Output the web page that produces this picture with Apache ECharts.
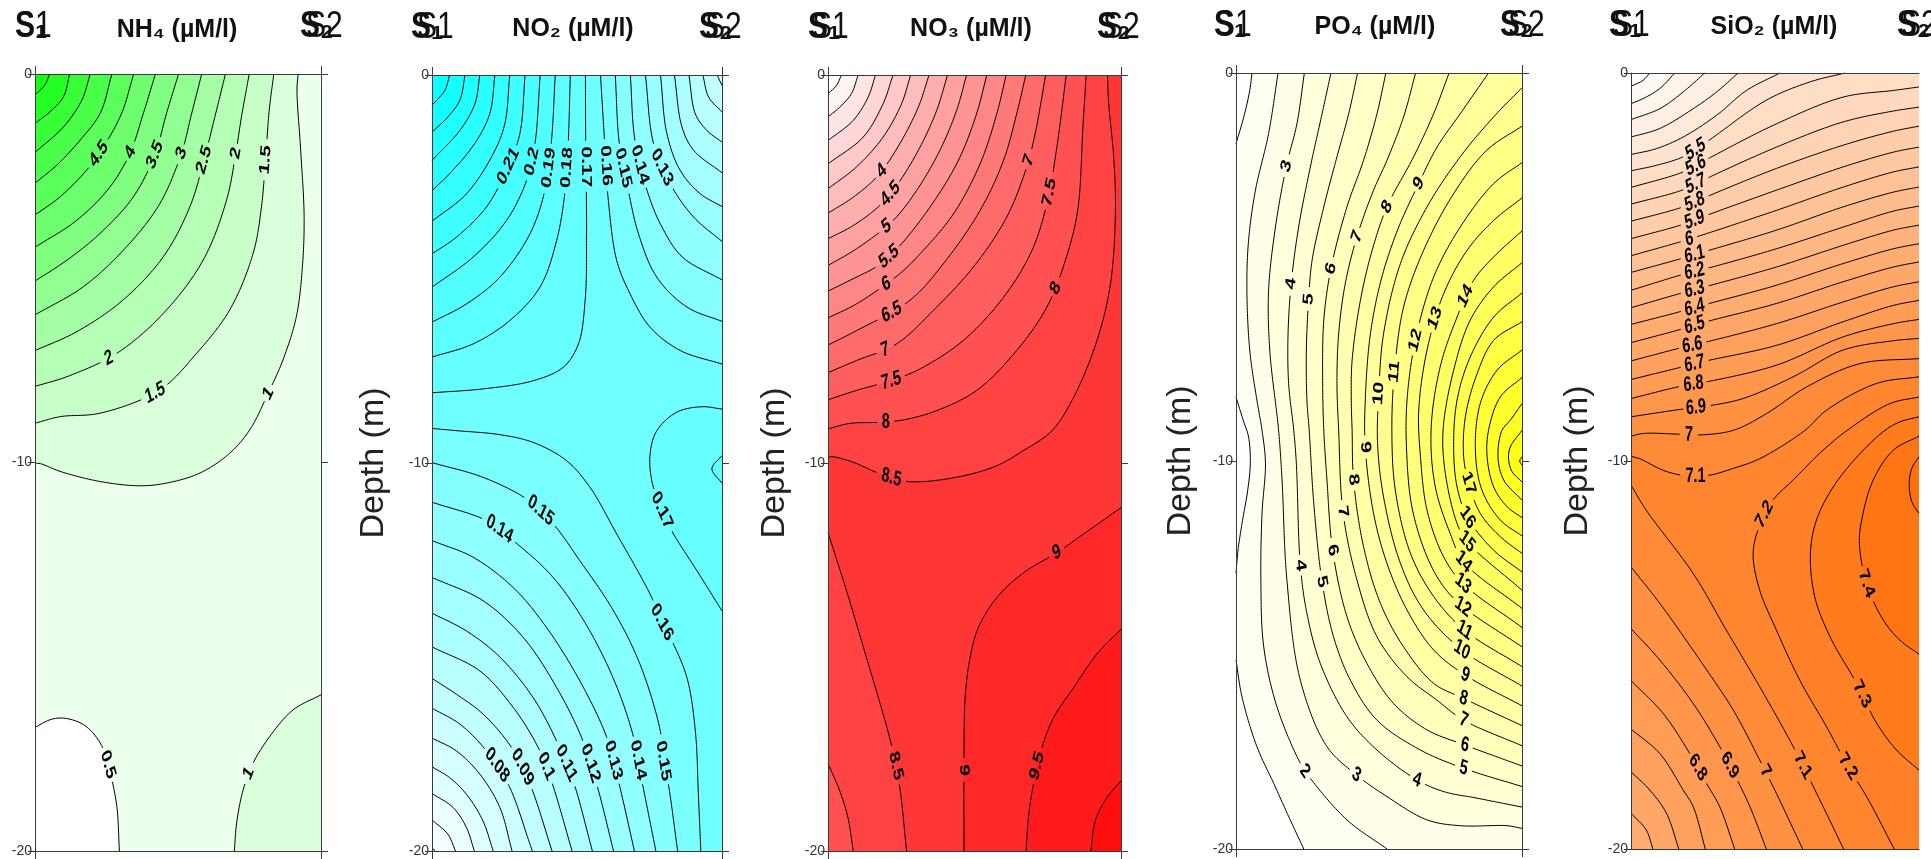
<!DOCTYPE html>
<html><head><meta charset="utf-8">
<style>html,body{margin:0;padding:0;background:#fff}#c{width:1931px;height:859px}</style>
<script src="https://cdn.jsdelivr.net/npm/echarts@6/dist/echarts.min.js"></script>
</head><body><div id="c"></div>
<script>
// x = position between stations S1 and S2 in %, depth in metres below surface.
const panelTitles = ['NH₄ (µM/l)','NO₂ (µM/l)','NO₃ (µM/l)','PO₄ (µM/l)','SiO₂ (µM/l)'];
const depthName = 'Depth (m)';

const nh4Levels = [0.5,1,1.5,2,2.5,3,3.5,4,4.5,5,5.5,6,6.5];
const nh4Contours = [
{v:0.5,c:[[[0,16.82],[5.3,16.62],[10,16.58],[17,16.75],[22.8,17.22],[26.3,18],[28.6,18.85],[29.5,20]]],k:[[[100,20],[100,0],[0,0]]]},
{v:1,c:[[[92,0],[91.6,.41],[92.9,1.96],[94.1,3.67],[93.5,4.96],[91.4,6.24],[86.7,7.36],[81.5,8.22],[75.1,9.16],[68.1,9.76],[57.7,10.27],[46,10.53],[36.7,10.6],[22.8,10.49],[8.8,10.23],[1.9,10.03],[0,10.02]]],k:[[[0,0]]]},
{v:1,c:[[[100,15.98],[90.2,16.37],[82.1,17.05],[76.3,17.73],[72.8,18.42],[70.5,19.28],[69.7,20]]],k:[[[100,20]]]},
{v:1.5,c:[[[83.5,0],[81.9,.93],[80.6,2.21],[79.2,3.41],[76.3,4.61],[68.1,6.07],[56.5,7.19],[43.7,8.13],[22.8,8.73],[8.8,8.82],[0,8.99]]],k:[[[0,0]]]},
{v:2,c:[[[74.9,0],[72.2,1.1],[70.2,2.04],[67,3.24],[58.8,4.79],[44.9,6.16],[28.6,7.19],[11.2,7.79],[0,8.04]]],k:[[[0,0]]]},
{v:2.5,c:[[[66.6,0],[62.9,1.1],[59.1,2.21],[54.2,3.41],[44.9,4.7],[30.9,5.81],[14.7,6.63],[0,7.12]]],k:[[[0,0]]]},
{v:3,c:[[[58.3,0],[54.8,1.01],[51.2,2.04],[43.7,3.33],[32.1,4.44],[17,5.47],[0,6.2]]],k:[[[0,0]]]},
{v:3.5,c:[[[50.2,0],[46,1.01],[41.9,2.08],[34.4,3.16],[22.8,4.1],[11.2,4.79],[0,5.33]]],k:[[[0,0]]]},
{v:4,c:[[[42.1,0],[37.9,1.01],[33.3,2.02],[26.3,2.9],[14.7,3.76],[0,4.46]]],k:[[[0,0]]]},
{v:4.5,c:[[[34.5,0],[30.3,1.01],[24,1.87],[18.1,2.47],[8.8,3.16],[0,3.63]]],k:[[[0,0]]]},
{v:5,c:[[[26.9,0],[22.8,1.01],[15.8,1.7],[7.7,2.34],[0,2.81]]],k:[[[0,0]]]},
{v:5.5,c:[[[19.3,0],[16.4,.67],[10,1.36],[0,2.02]]],k:[[[0,0]]]},
{v:6,c:[[[12.1,0],[10,.58],[5.3,.97],[0,1.27]]],k:[[[0,0]]]},
{v:6.5,c:[[[5.1,0],[3.5,.28],[0,.54]]],k:[[[0,0]]]}
];
const nh4Labels = [[23.4,2.08,'4.5'],[33.3,2.02,'4'],[42,2.08,'3.5'],[51.3,2.04,'3'],[60,2.21,'2.5'],[70.5,2.04,'2'],[80.6,2.21,'1.5'],[26.3,7.36,'2'],[42.6,8.26,'1.5'],[81.5,8.26,'1'],[25.3,17.78,'0.5'],[75.1,18.04,'1']];

const no2Levels = [0.03,0.04,0.05,0.06,0.07,0.08,0.09,0.1,0.11,0.12,0.13,0.14,0.15,0.16,0.17,0.18,0.19,0.2,0.21,0.22,0.23,0.24,0.25,0.26];
const cornersLow = [[0,0],[100,0],[100,20]];
const cornersBoth = [[[100,20]],[[0,0]]];
const no2Contours = [
{v:0.03,c:[[[1.2,20],[0,19.92]]],k:[cornersLow]},
{v:0.04,c:[[[8.1,20],[5.5,19.57],[0,19.2]]],k:[cornersLow]},
{v:0.05,c:[[[14.6,20],[11.9,19.4],[7.3,18.88],[0,18.52]]],k:[cornersLow]},
{v:0.06,c:[[[21.1,20],[17.6,19.23],[11.9,18.54],[6.1,18.11],[0,17.83]]],k:[cornersLow]},
{v:0.07,c:[[[27.6,20],[23.4,18.88],[16.5,18.02],[8.4,17.42],[0,17.09]]],k:[cornersLow]},
{v:0.08,c:[[[98.3,0],[100,.27]],[[34.6,20],[26.3,18.28],[18.8,17.42],[9.6,16.73],[0,16.32]]],k:cornersBoth},
{v:0.09,c:[[[93.4,0],[95.4,.57],[100,.95]],[[41.4,20],[33.8,18.28],[27.4,17.33],[17.6,16.47],[8.4,15.96],[0,15.55]]],k:cornersBoth},
{v:0.1,c:[[[88.6,0],[90.8,1],[94.8,1.43],[100,1.73]],[[48.3,20],[41.2,18.2],[36.6,17.33],[28,16.3],[16.5,15.36],[0,14.74]]],k:cornersBoth},
{v:0.11,c:[[[83.6,0],[86.2,1.34],[90.2,1.94],[100,2.52]],[[55.3,20],[48.7,18.2],[43,17.17],[34.9,16.05],[23.4,15],[11.9,14.33],[0,13.87]]],k:cornersBoth},
{v:0.12,c:[[[78.8,0],[81,1.51],[85.6,2.46],[92.5,3.06],[100,3.39]],[[62.6,20],[56.8,18.28],[51.6,17.08],[43,15.79],[31.5,14.5],[17.6,13.55],[0,12.95]]],k:cornersBoth},
{v:0.13,c:[[[73.6,0],[76.4,1.77],[82.1,2.8],[90.2,3.66],[100,4.29]],[[69.8,20],[64.3,18.2],[60.3,17.08],[51.6,15.7],[39.5,14.24],[28,13.21],[14.2,12.43],[0,12]]],k:cornersBoth},
{v:0.14,c:[[[68.4,0],[70,1.69],[74.7,3.1],[79.3,3.92],[86.3,4.69],[100,5.28]],[[77.2,20],[72.6,18.28],[68.9,16.9],[61.4,15.36],[51,13.9],[40.7,12.86],[28,12],[18.9,11.49],[0,11.01]]],k:cornersBoth},
{v:0.15,c:[[[63.2,0],[64.6,1.77],[67.7,2.98],[71.2,4.09],[77.5,5.21],[87.9,5.98],[100,6.35]],[[84.7,20],[81.5,18.28],[79.8,17.68],[78.7,16.9],[71.8,15.2],[62.6,13.81],[51,12.52],[41.8,11.57],[32.6,10.93],[17.6,10.37],[0,9.99]]],k:cornersBoth},
{v:0.16,c:[[[58.1,0],[59.7,1.94],[60.8,3.23],[63.7,4.78],[68.3,5.64],[75.2,6.5],[85.6,7.1],[100,7.45]],[[92.7,20],[91.9,18.63],[90.8,16.9],[87.9,15.53],[82.7,14.58],[79.3,14.11],[75.2,13.38],[63.7,11.83],[54.5,10.63],[46.4,9.94],[34.9,9.47],[23.4,9.27],[9,9.17],[0,9.11]]],k:cornersBoth},
{v:0.17,c:[[[52.9,0],[53,1.69],[53.3,4.09],[52.8,5.81],[50.5,6.93],[45.3,7.53],[34.9,7.88],[17.6,8.09],[0,8.19]]],k:[[[0,0]]]},
{v:0.17,c:[[[100,13.81],[91.3,12.77],[83.3,11.83],[79.3,11.23],[75.8,10.46],[75.2,9.77],[77.5,9.17],[84.4,8.69],[93.1,8.55],[100,8.61]]],k:[[]]},
{v:0.18,c:[[[47.7,0],[47,1.69],[45.9,2.98],[43,4.26],[37.2,5.47],[26.8,6.33],[14.2,6.93],[0,7.27]]],k:[[[0,0]]]},
{v:0.18,c:[[[100,9.81],[96.5,10.15],[100,10.52]]],k:[[]]},
{v:0.19,c:[[[42.5,0],[41.2,1.69],[38.9,2.98],[33.8,4.09],[23.4,5.21],[11.9,5.9],[0,6.37]]],k:[[[0,0]]]},
{v:0.2,c:[[[37.3,0],[35.5,1.77],[32.6,2.72],[25.7,3.75],[14.2,4.69],[0,5.47]]],k:[[[0,0]]]},
{v:0.21,c:[[[32.1,0],[30.3,1.51],[26.3,2.35],[18.8,3.4],[8.4,4.18],[0,4.61]]],k:[[[0,0]]]},
{v:0.22,c:[[[26.8,0],[25.1,1.26],[21.1,2.03],[11.9,3.06],[0,3.77]]],k:[[[0,0]]]},
{v:0.23,c:[[[21.7,0],[19.9,1],[14.7,1.77],[6.1,2.54],[0,2.98]]],k:[[[0,0]]]},
{v:0.24,c:[[[16.5,0],[14.8,.74],[9.6,1.43],[0,2.2]]],k:[[[0,0]]]},
{v:0.25,c:[[[11.4,0],[9.6,.65],[5.5,1.08],[0,1.47]]],k:[[[0,0]]]},
{v:0.26,c:[[[6.1,0],[4.4,.4],[0,.78]]],k:[[[0,0]]]}
];
const no2Labels = [[26.3,2.35,'0.21'],[33.8,2.24,'0.2'],[39.5,2.37,'0.19'],[46.4,2.37,'0.18'],[53,2.37,'0.17'],[59.3,2.37,'0.16'],[65.8,2.37,'0.15'],[72.9,2.3,'0.14'],[79.8,2.33,'0.13'],[37.2,11.27,'0.15'],[22.8,11.79,'0.14'],[79.3,11.23,'0.17'],[79.3,14.11,'0.16'],[22.2,17.81,'0.08'],[30.5,17.85,'0.09'],[38.9,17.85,'0.1'],[45.9,17.72,'0.11'],[53.9,17.77,'0.12'],[62,17.68,'0.13'],[70.6,17.68,'0.14'],[79.8,17.68,'0.15']];

const no3Levels = [1.5,2,2.5,3,3.5,4,4.5,5,5.5,6,6.5,7,7.5,8,8.5,9,9.5,10];
const cornersTL = [[0,20],[100,20],[100,0]];
const no3Contours = [
{v:1.5,c:[[[4.6,0],[2.9,.27],[0,.48]]],k:[cornersTL]},
{v:2,c:[[[10.3,0],[8,.48],[4,.83],[0,1.08]]],k:[cornersTL]},
{v:2.5,c:[[[16.2,0],[13.7,.57],[8.6,1.17],[0,1.69]]],k:[cornersTL]},
{v:3,c:[[[22.2,0],[18.8,.74],[12,1.6],[0,2.29]]],k:[cornersTL]},
{v:3.5,c:[[[28.2,0],[25.1,.74],[18.8,1.6],[9.7,2.37],[0,2.93]]],k:[cornersTL]},
{v:4,c:[[[34.5,0],[30.8,.83],[24.5,1.77],[17.1,2.59],[8.6,3.15],[0,3.56]]],k:[cornersTL]},
{v:4.5,c:[[[40.8,0],[37.1,.91],[31.4,1.86],[23.9,2.8],[17.7,3.36],[8.6,3.88],[0,4.22]]],k:[cornersTL]},
{v:5,c:[[[47.3,0],[43.9,.91],[38.2,1.94],[30.2,2.98],[22.2,3.75],[9.7,4.48],[0,4.91]]],k:[cornersTL]},
{v:5.5,c:[[[54.2,0],[50.7,1],[45,2.12],[37.1,3.15],[25.1,4.35],[17.1,4.91],[8.6,5.25],[0,5.57]]],k:[cornersTL]},
{v:6,c:[[[60.8,0],[57.6,1],[51.9,2.29],[42.8,3.58],[31.4,4.61],[24.5,5.12],[9.7,5.9],[0,6.26]]],k:[cornersTL]},
{v:6.5,c:[[[67.5,0],[64.4,1],[59.9,2.2],[51.9,3.49],[39.3,4.87],[27.9,5.81],[9.7,6.59],[0,6.96]]],k:[cornersTL]},
{v:7,c:[[[74.3,0],[70.7,1.51],[67.8,2.37],[61,3.66],[49.6,4.95],[35.9,6.07],[23.4,6.93],[9.7,7.36],[0,7.67]]],k:[cornersTL]},
{v:7.5,c:[[[81.3,0],[78.1,1.86],[74.7,3.32],[69.6,4.52],[59.9,5.73],[46.2,6.84],[32.5,7.53],[23.4,7.83],[9.7,8.13],[0,8.37]]],k:[cornersTL]},
{v:8,c:[[[88.1,0],[87,1.34],[85.2,3.49],[81,4.78],[74.7,5.98],[64.4,7.1],[50.7,8.13],[37.1,8.65],[25.7,8.89],[17.7,8.95],[7.4,8.98],[0,9.12]],[[0,17.75],[4,18.45],[6.8,19.14],[8.6,20]]],k:[[],[[100,20],[100,0]]]},
{v:8.5,c:[[[95.4,0],[95.8,.74],[97.5,2.12],[98.1,3.49],[96.4,5.38],[91.8,6.84],[83.8,8.31],[76.4,9.17],[66.7,9.68],[57.6,10.07],[46.2,10.33],[32.5,10.48],[25.7,10.46],[16.5,10.24],[8.6,9.98],[1.7,9.84],[0,9.85]],[[0,11.79],[6.3,13.29],[13.1,15.01],[18.8,16.47],[21.7,17.29],[24.5,18.37],[26.8,20]]],k:[[],[[100,20],[100,0]]]},
{v:9,c:[[[100,11.15],[87.2,11.83],[78.1,12.31],[66.7,12.83],[57.6,13.47],[51.3,14.24],[48.5,15.01],[46.8,16.05],[46.4,17.77],[46.4,20]]],k:[[[100,20]]]},
{v:9.5,c:[[[100,14.28],[91.8,14.92],[83.8,15.79],[77,16.56],[73,17.34],[70.1,18.28],[68.4,19.14],[67.6,20]]],k:[[[100,20]]]},
{v:10,c:[[[100,18.19],[95.2,18.62],[91.2,19.22],[89.7,20]]],k:[[[100,20]]]}
];
const no3Labels = [[19.2,2.49,'4'],[21.7,3.06,'4.5'],[20,3.92,'5'],[20.8,4.65,'5.5'],[20,5.45,'6'],[21.7,6.17,'6.5'],[20,7.09,'7'],[22,7.92,'7.5'],[20,8.93,'8'],[68.4,2.2,'7'],[75.3,3.06,'7.5'],[79,5.51,'8'],[22.2,10.37,'8.5'],[78.1,12.26,'9'],[23.4,17.8,'8.5'],[46.4,17.95,'9',-90],[71.8,17.8,'9.5']];

const po4Levels = [1,2,3,4,5,6,7,8,9,10,11,12,13,14,15,16,17,18,19,20,21,22];
const po4Contours = [
{v:1,c:[[[5.6,0],[4.8,.45],[2.7,1.14],[0,1.82]],[[0,8.35],[2.7,8.99],[4.4,9.38],[5,10.06],[4.1,10.75],[2.1,11.61],[.7,12.3],[0,12.89]],[[0,15.13],[2.1,16.08],[7.3,17.36],[13.2,18.31],[17.9,19.08],[23.7,20]]],k:[[],[],[[100,20],[100,0]]]},
{v:2,c:[[[14.7,0],[11.4,1.56],[6.8,3.02],[4.4,4.31],[3.8,5.51],[4.8,7.14],[7.3,8.43],[9.1,9.21],[10.3,10.06],[9.1,11.35],[8.7,13.07],[9.7,14.79],[14.3,16.33],[22.5,17.79],[26,18.18],[38.8,19.25],[52.8,20]]],k:[[[100,20],[100,0]]]},
{v:3,c:[[[23.9,0],[21.3,1.31],[17.6,2.4],[13.8,3.97],[11.4,5.6],[11.8,7.14],[14.9,9.21],[16.1,10.49],[17.8,13.07],[22.5,15.65],[31.8,17.36],[42.1,18.09],[52.8,18.65],[66.8,19.25],[78.4,19.4],[94.8,19.4],[100,19.47]]],k:[[[100,0]]]},
{v:4,c:[[[33.2,0],[30.1,1.05],[26,2.42],[21.9,3.97],[19.3,5.43],[18.2,6.72],[18.4,8],[20.2,9.21],[21.1,10.06],[22.5,12.69],[24.8,13.93],[29.5,15.22],[38.8,16.59],[49.3,17.45],[63.3,18.22],[72.6,18.52],[84.3,18.69],[100,18.92]]],k:[[[100,0]]]},
{v:5,c:[[[42.5,0],[39.4,1.05],[35.3,2.16],[30.7,3.45],[26.6,4.83],[25.4,5.83],[24.6,7.14],[24.8,8.43],[25.6,9.21],[27.2,11.1],[30.1,13.11],[34.1,14.53],[40,15.65],[49.3,16.68],[64.5,17.45],[79.6,17.92],[100,18.39]]],k:[[[100,0]]]},
{v:6,c:[[[52.4,0],[49.3,1.05],[44.6,2.25],[38.8,3.45],[33.2,5.04],[30.7,6.37],[30.3,8],[30.7,9.21],[31.8,10.49],[33.8,12.3],[38.8,14.01],[45.8,15.22],[55.1,16.25],[66.8,16.93],[80,17.32],[100,17.86]]],k:[[[100,0]]]},
{v:7,c:[[[62.8,0],[58.6,1.13],[52.8,2.25],[48.1,3.02],[42.3,4.22],[38.2,5.43],[35.9,6.72],[35.3,8],[35.9,9.21],[37.4,11.31],[42.3,13.07],[49.3,14.53],[59.8,15.56],[70.2,16.16],[79.6,16.68],[100,17.34]]],k:[[[100,0]]]},
{v:8,c:[[[74.5,0],[69.1,1.05],[62.1,2.16],[52.8,3.45],[47.6,4.57],[43.5,5.86],[40.6,7.4],[40.3,8.43],[40.6,9.21],[41.1,10.48],[44.6,12.21],[50.5,13.67],[58.6,14.79],[69.1,15.73],[79.6,16.12],[100,16.82]]],k:[[[100,0]]]},
{v:9,c:[[[88.3,0],[78.4,1.05],[70.3,1.91],[63.9,2.85],[56.9,3.97],[51,5.26],[47,6.72],[45.2,8.43],[45.2,9.65],[48.1,11.35],[52.8,12.64],[59.8,13.84],[69.1,14.87],[80.2,15.52],[100,16.31]]],k:[[[100,0]]]},
{v:10,c:[[[100,.38],[90.1,1.13],[78.4,2.16],[66.8,3.45],[57.5,4.91],[51.6,6.72],[49.9,8.26],[49.5,9.55],[51.6,10.93],[57.5,12.64],[65.6,13.84],[79,14.87],[100,15.8]]],k:[[]]},
{v:11,c:[[[100,1.37],[87.7,1.99],[76.1,3.11],[65.6,4.57],[58.6,6.03],[55.4,7.7],[54.5,9.21],[55.7,10.75],[61,12.38],[69.1,13.49],[79.9,14.36],[100,15.3]]],k:[[]]},
{v:12,c:[[[100,2.31],[90.1,2.85],[78.4,3.97],[69.1,5.26],[62.7,6.89],[59.8,8.43],[59.6,9.64],[61.5,11.18],[66.8,12.47],[72.6,13.24],[79.4,13.76],[100,14.79]]],k:[[]]},
{v:13,c:[[[100,3.22],[90.1,3.8],[80.8,4.57],[72.6,5.69],[66.8,7.14],[63.9,8.69],[64.5,9.89],[66.8,11.27],[72.6,12.47],[79.4,13.16],[100,14.29]]],k:[[]]},
{v:14,c:[[[100,4.07],[90.1,4.74],[83.1,5.34],[77.3,6.29],[71.4,7.57],[68.2,9.21],[69.7,10.67],[74.9,11.87],[79.6,12.6],[100,13.8]]],k:[[]]},
{v:15,c:[[[100,4.89],[90.1,5.51],[81.9,6.37],[76.1,7.66],[72.4,9.21],[73.2,10.32],[77.3,11.61],[80.8,12.08],[100,13.33]]],k:[[]]},
{v:16,c:[[[100,5.67],[90.1,6.29],[81.9,7.32],[77.3,8.43],[76.1,9.64],[77.3,10.67],[81,11.46],[90.1,12.3],[100,12.86]]],k:[[]]},
{v:17,c:[[[100,6.41],[90.1,6.89],[84.3,7.75],[80.2,8.86],[79.6,9.89],[81.4,10.58],[85.4,11.35],[92.4,11.95],[100,12.38]]],k:[[]]},
{v:18,c:[[[100,7.14],[91.3,7.66],[85.4,8.52],[83.7,9.72],[86,10.75],[92.4,11.52],[100,11.93]]],k:[[]]},
{v:19,c:[[[100,7.85],[92.4,8.35],[88.3,9.21],[87.8,9.89],[90.1,10.67],[94.8,11.18],[100,11.46]]],k:[[]]},
{v:20,c:[[[100,8.52],[95.9,8.95],[93,9.21],[91.6,9.89],[93.6,10.49],[100,11.01]]],k:[[]]},
{v:21,c:[[[100,9.21],[95.9,9.64],[95.3,9.94],[96.5,10.27],[100,10.54]]],k:[[]]},
{v:22,c:[[[100,9.89],[99.2,10],[100,10.11]]],k:[[]]}
];
const po4Labels = [[17.6,2.4,'3'],[63.9,2.85,'9'],[52.8,3.45,'8'],[42.3,4.22,'7'],[33.2,5.04,'6'],[19.3,5.43,'4'],[25.4,5.83,'5'],[80.8,5.73,'14'],[70.6,6.33,'13'],[62.7,6.89,'12'],[55.5,7.7,'11'],[49.9,8.26,'10'],[45.2,9.65,'9'],[41.1,10.48,'8'],[37.4,11.31,'7'],[33.8,12.3,'6'],[22.7,12.69,'4'],[30.1,13.11,'5'],[81.4,10.58,'17'],[81,11.46,'16'],[80.8,12.08,'15'],[79.6,12.6,'14'],[79.4,13.16,'13'],[79.4,13.76,'12'],[80,14.36,'11'],[79,14.87,'10'],[80.2,15.52,'9'],[79.6,16.12,'8'],[79.6,16.68,'7'],[80,17.32,'6'],[79.6,17.92,'5'],[24.2,18.01,'2'],[42.1,18.09,'3'],[63.5,18.22,'4']];

const sio2Levels = [5,5.1,5.2,5.3,5.4,5.5,5.6,5.7,5.8,5.9,6,6.1,6.2,6.3,6.4,6.5,6.6,6.7,6.8,6.9,7,7.1,7.2,7.3,7.4,7.5];
const cornersBelow = [[100,20],[0,20]];
const cornersRing = [[[100,20]],[]];
const sio2Contours = [
{v:5,c:[[[6.5,0],[4.2,.19],[0,.34]]],k:[cornersTL]},
{v:5.1,c:[[[15.2,0],[10,.4],[4.2,.66],[0,.79]]],k:[cornersTL]},
{v:5.2,c:[[[25.6,0],[18.1,.49],[10,.92],[0,1.2]]],k:[cornersTL]},
{v:5.3,c:[[[37.2,0],[29.7,.49],[21.6,.92],[10,1.43],[0,1.65]]],k:[cornersTL]},
{v:5.4,c:[[[51.7,0],[40.1,.45],[29.7,1.09],[18.1,1.65],[8.8,1.95],[0,2.1]]],k:[cornersTL]},
{v:5.5,c:[[[74.3,0],[62.1,.23],[47,.7],[26.2,1.78],[18.1,2.16],[8.8,2.38],[0,2.52]]],k:[cornersTL]},
{v:5.6,c:[[[0,2.95],[18.1,2.55],[26.2,2.23],[50.5,1.31],[73.7,.62],[91.1,.45],[100,.36]]],k:[cornersBelow]},
{v:5.7,c:[[[0,3.38],[18.1,3.01],[26.2,2.72],[50.5,1.91],[73.7,1.26],[91.1,.98],[100,.88]]],k:[cornersBelow]},
{v:5.8,c:[[[0,3.82],[18.1,3.45],[26.2,3.19],[50.5,2.46],[73.7,1.86],[91.1,1.5],[100,1.37]]],k:[cornersBelow]},
{v:5.9,c:[[[0,4.27],[18.1,3.9],[26.2,3.67],[50.5,3.02],[73.7,2.42],[91.1,2.04],[100,1.91]]],k:[cornersBelow]},
{v:6,c:[[[0,4.71],[18.1,4.33],[26.2,4.14],[50.5,3.54],[73.7,2.94],[91.1,2.55],[100,2.42]]],k:[cornersBelow]},
{v:6.1,c:[[[0,5.14],[18.1,4.77],[26.2,4.59],[50.5,4.05],[73.7,3.45],[91.1,3.07],[100,2.94]]],k:[cornersBelow]},
{v:6.2,c:[[[0,5.6],[18.1,5.19],[26.2,5.04],[50.5,4.53],[73.7,3.97],[91.1,3.56],[100,3.43]]],k:[cornersBelow]},
{v:6.3,c:[[[0,6.05],[18.1,5.66],[26.2,5.5],[50.5,5],[73.7,4.44],[91.1,4.05],[100,3.92]]],k:[cornersBelow]},
{v:6.4,c:[[[0,6.48],[18.1,6.13],[26.2,5.96],[50.5,5.47],[73.7,4.91],[91.1,4.53],[100,4.4]]],k:[cornersBelow]},
{v:6.5,c:[[[0,6.95],[18.1,6.59],[26.2,6.41],[50.5,5.94],[73.7,5.38],[91.1,5],[100,4.87]],[[7.6,20],[5.3,19.51],[0,19.08]]],k:cornersRing},
{v:6.6,c:[[[0,7.42],[17.5,7.08],[26.2,6.93],[50.5,6.46],[73.7,5.9],[91.1,5.51],[100,5.38]],[[16.6,20],[12.3,19.08],[6.5,18.48],[0,18.01]]],k:cornersRing},
{v:6.7,c:[[[0,7.9],[18.1,7.57],[26.2,7.42],[50.5,7.02],[73.7,6.41],[91.1,5.99],[100,5.86]],[[25.8,20],[21.6,18.91],[18.1,18.48],[10,17.54],[0,16.91]]],k:cornersRing},
{v:6.8,c:[[[0,8.39],[17.5,8.07],[26.2,7.96],[50.5,7.53],[73.7,6.8],[91.1,6.46],[100,6.35]],[[36,20],[30.8,18.91],[26.2,18.31],[20.4,17.54],[11.1,16.5],[0,15.66]]],k:cornersRing},
{v:6.9,c:[[[0,8.86],[18.1,8.66],[26.8,8.58],[38.9,8.39],[56.3,7.83],[73.7,7.14],[91.1,6.9],[100,6.84]],[[47,20],[41.3,18.91],[36.6,18.18],[30.8,17.36],[21.6,16.25],[10,15.13],[0,14.32]]],k:cornersRing},
{v:7,c:[[[0,9.36],[4.2,9.29],[16.9,9.31],[23.3,9.33],[35.5,9.21],[47,8.78],[61,8.09],[79.5,7.49],[100,7.36]],[[59.6,20],[50.5,18.57],[44.7,17.71],[35.5,16.42],[23.9,15.13],[10,13.67],[0,12.73]]],k:cornersRing},
{v:7.1,c:[[[0,9.88],[3,9.94],[11.2,10.24],[18.1,10.37],[26.8,10.37],[35.5,10.19],[44.7,9.94],[60.4,9.21],[67.9,8.69],[85.3,8],[100,7.83]],[[73.8,20],[65.6,18.74],[56.3,17.36],[44.7,15.82],[33.1,14.36],[21.6,12.9],[5.3,11.27],[0,10.62]]],k:cornersRing},
{v:7.2,c:[[[100,8.35],[89.9,8.52],[76,9.16],[66.7,9.72],[56.3,10.49],[49.4,11],[44.7,11.65],[42.4,12.38],[44.7,13.33],[50.5,14.36],[58.6,15.65],[67.9,16.85],[75.4,17.88],[81.8,18.65],[91.4,20]]],k:[[[100,20]]]},
{v:7.3,c:[[[100,8.86],[93.4,8.99],[88.2,9.21],[79.5,9.81],[70.2,10.67],[64.4,11.52],[62.3,12.38],[63.8,13.5],[69.1,14.53],[78.3,15.73],[85.3,16.76],[92.2,17.45],[100,17.97]]],k:[[]]},
{v:7.4,c:[[[100,9.36],[91.1,9.72],[84.1,10.49],[80.1,11.52],[79.3,12.13],[81.8,13.16],[87.6,14.1],[93.4,14.62],[100,14.98]]],k:[[]]},
{v:7.5,c:[[[100,9.89],[97.5,10.19],[96.6,10.58],[97.5,11.05],[100,11.35]]],k:[[]]}
];
const sio2Labels = [[22.1,1.92,'5.5'],[22.1,2.38,'5.6'],[22.1,2.85,'5.7'],[22.1,3.31,'5.8'],[22.1,3.75,'5.9'],[20.4,4.27,'6'],[22.1,4.7,'6.1'],[22.1,5.13,'6.2'],[22.1,5.58,'6.3'],[22.1,6.03,'6.4'],[22.1,6.5,'6.5'],[21.6,7,'6.6'],[22.1,7.49,'6.7'],[21.8,8.05,'6.8'],[22.1,8.62,'6.9'],[20.2,9.33,'7'],[22.1,10.39,'7.1'],[47,11.39,'7.2'],[81.8,13.16,'7.4'],[80.6,16.03,'7.3'],[75.4,17.88,'7.2'],[59.8,17.84,'7.1'],[47.6,17.97,'7'],[34.3,17.84,'6.9'],[23.3,17.92,'6.8']];

const rampColours = [[0,255,0],[0,255,255],[255,0,0],[255,255,0],[255,106,0]];
const levelSets = [nh4Levels,no2Levels,no3Levels,po4Levels,sio2Levels];
const contourSets = [nh4Contours,no2Contours,no3Contours,po4Contours,sio2Contours];
const labelSets = [nh4Labels,no2Labels,no3Labels,po4Labels,sio2Labels];

// layout
const frames = [[35,321,74,851],[432,722,75,851],[828,1121,75,851],[1236,1522,73,849],[1631,1919,73,849]];
const titleX = [172,568,966,1370,1769];
const titleTop = [13,12,12,10,10];
const s1X = [[15,15],[411,417],[808,812],[1214,1215],[1609,1613]];
const s2X = [[300,306],[699,705],[1097,1103],[1500,1508],[1897,1901]];
const depthX = [0,374,775,1181,1578];
const STRETCH = 1.45, FONT = 14.5;

function smooth(pts){
  const n = pts.length, out = [];
  if(n<3) return pts.slice();
  const get = i => {
    if(i<0) return [2*pts[0][0]-pts[1][0],2*pts[0][1]-pts[1][1]];
    if(i>=n) return [2*pts[n-1][0]-pts[n-2][0],2*pts[n-1][1]-pts[n-2][1]];
    return pts[i];
  };
  const td = (a,b)=>Math.max(1e-3,Math.sqrt(Math.hypot(a[0]-b[0],a[1]-b[1])));
  const L=(a,b,t0,t1,t)=>{const u=(t-t0)/(t1-t0);return [a[0]+(b[0]-a[0])*u,a[1]+(b[1]-a[1])*u];};
  for(let i=0;i<n-1;i++){
    const p0=get(i-1),p1=get(i),p2=get(i+1),p3=get(i+2);
    const t0=0,t1=t0+td(p0,p1),t2=t1+td(p1,p2),t3=t2+td(p2,p3);
    const steps=Math.max(4,Math.round(Math.hypot(p1[0]-p2[0],p1[1]-p2[1])/3));
    for(let s=0;s<steps;s++){
      const t=t1+(t2-t1)*s/steps;
      const a1=L(p0,p1,t0,t1,t),a2=L(p1,p2,t1,t2,t),a3=L(p2,p3,t2,t3,t);
      const b1=L(a1,a2,t0,t2,t),b2=L(a2,a3,t1,t3,t);
      out.push(L(b1,b2,t1,t2,t));
    }
  }
  out.push(pts[n-1]);
  return out;
}
const toPx = (api,p)=>api.coord([p[0],-p[1]]);
function textWidth(s){let w=0;for(const ch of s) w+=ch==='.'?.278:.556;return w*FONT;}

const placed = {};
function placeLabels(p,api){
  if(placed[p]) return placed[p];
  const res = labelSets[p].map(l=>{
    const v=parseFloat(l[2]), tgt=toPx(api,l);
    let best=null,bd=1e12;
    contourSets[p].filter(c=>c.v===v).forEach(c=>c.c.forEach(cv=>{
      const d=smooth(cv.map(q=>toPx(api,q)));
      d.forEach((q,i)=>{const e=Math.hypot(q[0]-tgt[0],q[1]-tgt[1]);if(e<bd){bd=e;best={d,i};}});
    }));
    const a=best.d[Math.max(0,best.i-3)],b=best.d[Math.min(best.d.length-1,best.i+3)],pt=best.d[best.i];
    let tx=b[0]-a[0],ty=(b[1]-a[1])/STRETCH;
    if(tx<0){tx=-tx;ty=-ty;}
    let th=Math.atan2(-ty,tx);
    if(l[3]!==undefined) th=l[3]*Math.PI/180;
    return {v,text:l[2],x:pt[0],y:pt[1],th,hw:textWidth(l[2])/2+2.5,hh:6.5};
  });
  placed[p]=res;return res;
}
function colour(p,v){
  const lv=levelSets[p],t=(lv.indexOf(v)+1)/(lv.length+1),c=rampColours[p];
  return 'rgb('+c.map(k=>Math.round(255+(k-255)*t)).join(',')+')';
}
function fillItem(p){return function(params,api){
  const c=contourSets[p][params.dataIndex],pts=[];
  c.c.forEach((cv,i)=>{
    smooth(cv.map(q=>toPx(api,q))).forEach(q=>pts.push(q));
    (c.k[i]||[]).forEach(q=>pts.push(toPx(api,q)));
  });
  return {type:'polygon',silent:true,shape:{points:pts},style:{fill:colour(p,c.v),stroke:null}};
};}
function lineItem(p){return function(params,api){
  const c=contourSets[p][params.dataIndex],labs=placeLabels(p,api).filter(l=>l.v===c.v),kids=[];
  c.c.forEach(cv=>{
    let run=[];
    smooth(cv.map(q=>toPx(api,q))).forEach(q=>{
      const hit=labs.some(l=>{
        const dx=q[0]-l.x,dy=(q[1]-l.y)/STRETCH;
        const u=dx*Math.cos(l.th)-dy*Math.sin(l.th),w=dx*Math.sin(l.th)+dy*Math.cos(l.th);
        return Math.abs(u)<l.hw&&Math.abs(w)<l.hh;
      });
      if(hit){if(run.length>1)kids.push(run);run=[];}else run.push(q);
    });
    if(run.length>1)kids.push(run);
  });
  return {type:'group',silent:true,children:kids.map(r=>({type:'polyline',shape:{points:r},style:{stroke:'#000',lineWidth:1,fill:null}}))};
};}
function labelItem(p){return function(params,api){
  const l=placeLabels(p,api)[params.dataIndex];
  return {type:'group',silent:true,x:l.x,y:l.y,scaleY:STRETCH,children:[{type:'text',rotation:l.th,
    style:{text:l.text,x:0,y:0,align:'center',verticalAlign:'middle',font:'bold '+FONT+'px "Liberation Sans"',fill:'#000'}}]};
};}

const grid=[],xAxis=[],yAxis=[],series=[],title=[],graphic=[];
const axisColor='#3a3a3a';
frames.forEach((f,p)=>{
  grid.push({left:f[0],top:f[2],width:f[1]-f[0],height:f[3]-f[2],show:false});
  const base={type:'value',gridIndex:p,min:0,max:100,interval:100,z:8,axisLabel:{show:false},splitLine:{show:false},
    axisLine:{show:true,onZero:false,lineStyle:{color:axisColor,width:1}},axisTick:{show:true,inside:false,length:8,lineStyle:{color:axisColor}}};
  const noRight = p===4;
  xAxis.push(Object.assign({},base,{position:'bottom'}));
  xAxis.push(Object.assign({},base,{position:'top'}));
  if(noRight){ xAxis[xAxis.length-1].axisTick={show:false}; xAxis[xAxis.length-2].axisTick={show:false}; }
  const ybase={type:'value',gridIndex:p,min:-20,max:0,interval:10,z:8,splitLine:{show:false},
    axisLine:{show:true,onZero:false,lineStyle:{color:axisColor,width:1}},axisTick:{show:true,inside:false,length:7,lineStyle:{color:axisColor}}};
  yAxis.push(Object.assign({},ybase,{position:'left',axisLabel:{show:true,margin:3,color:'#333',fontFamily:'"Liberation Sans"',fontSize:14}}));
  yAxis.push(Object.assign({},ybase,{position:'right',show:!noRight,axisLabel:{show:false}}));
  const data=contourSets[p].map(c=>[c.c[0][0][0],-c.c[0][0][1],c.v]);
  const ld=labelSets[p].map(l=>[l[0],-l[1],parseFloat(l[2])]);
  const ax={xAxisIndex:p*2,yAxisIndex:p*2,coordinateSystem:'cartesian2d',type:'custom',clip:false,animation:false,silent:true,tooltip:{show:false}};
  series.push(Object.assign({},ax,{name:panelTitles[p]+' fill',z:2,renderItem:fillItem(p),data}));
  series.push(Object.assign({},ax,{name:panelTitles[p]+' contours',z:3,renderItem:lineItem(p),data}));
  series.push(Object.assign({},ax,{name:panelTitles[p]+' labels',z:4,renderItem:labelItem(p),data:ld}));
  title.push({text:panelTitles[p],left:titleX[p],top:titleTop[p],textAlign:'center',
    textStyle:{fontFamily:'"Liberation Sans"',fontWeight:'bold',fontSize:25,color:'#111'}});
  const sy=f[2]-47;
  [['S₁',s1X[p][0],'bold'],['S1',s1X[p][1],'normal'],['S₂',s2X[p][0],'bold'],['S2',s2X[p][1],'normal']].forEach(s=>{
    graphic.push({type:'text',x:s[1],y:sy,scaleY:1.25,silent:true,
      style:{text:s[0],font:s[2]+' 30px "Liberation Sans"',fill:'#111',align:'left',verticalAlign:'middle'}});
  });
  if(p>0){
    graphic.push({type:'group',x:depthX[p],y:(f[2]+f[3])/2,silent:true,children:[
      {type:'text',rotation:Math.PI/2,style:{text:depthName,font:'34px "Liberation Sans"',fill:'#222',align:'center',verticalAlign:'middle'}}]});
  }
});
const chart=echarts.init(document.getElementById('c'),null,{renderer:'canvas',width:1931,height:859});
chart.setOption({animation:false,backgroundColor:'#fff',title,grid,xAxis,yAxis,series,graphic});
</script></body></html>
